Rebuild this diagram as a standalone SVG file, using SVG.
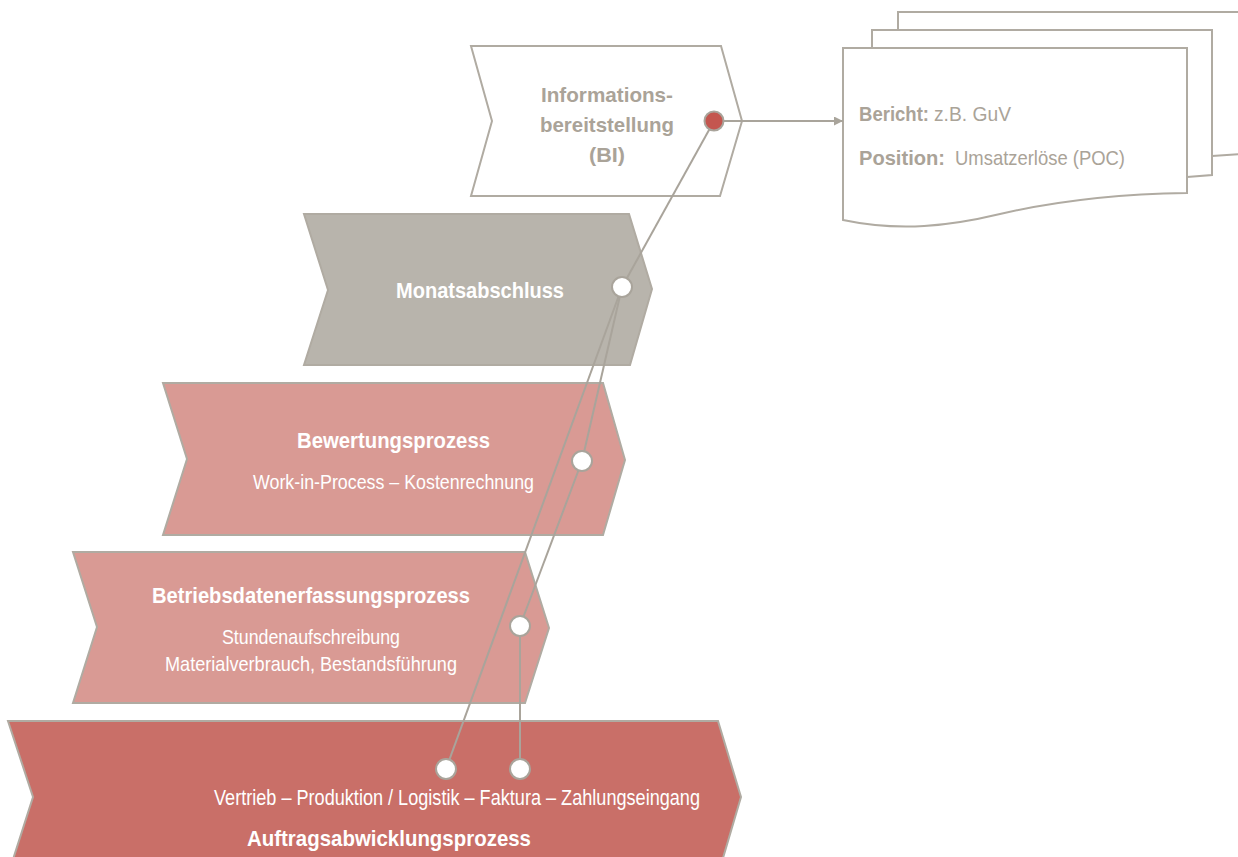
<svg xmlns="http://www.w3.org/2000/svg" width="1238" height="857" viewBox="0 0 1238 857">
<defs>
<style>
.sh{stroke:#b0aba2;stroke-width:2;stroke-linejoin:miter}
.pg{fill:#fff;stroke:#b0aba2;stroke-width:2}
.b{font-family:"Liberation Sans",Arial,sans-serif;font-weight:bold}
.r{font-family:"Liberation Sans",Arial,sans-serif;font-weight:normal}
.w{fill:#fff}
.g{fill:#aaa398}
.con{stroke:#a9a49b;stroke-width:2;fill:none}
.dot{fill:#fff;stroke:#a9a49b;stroke-width:2}
</style>
<marker id="arr" viewBox="0 0 10 10" refX="10" refY="5" markerWidth="11" markerHeight="9" orient="auto" markerUnits="userSpaceOnUse">
<path d="M0,0 L10,5 L0,10 z" fill="#a9a49b"/>
</marker>
</defs>
<rect width="1238" height="857" fill="#fff"/>

<g id="bericht">
<path class="pg" d="M898,156 L898,12 L1240,12 L1240,154 L1212,156"/>
<path class="pg" d="M872,178 L872,30 L1212,30 L1212,175 L1187,177"/>
<path class="pg" d="M843,220 L843,48 L1187,48 L1187,193 C1120,194 1060,200 1000,214 C950,226 900,232 843,220 Z"/>
<text class="g" x="859" y="121" font-size="21"><tspan class="b" textLength="70" lengthAdjust="spacingAndGlyphs">Bericht:</tspan><tspan class="r" dx="5" textLength="77" lengthAdjust="spacingAndGlyphs">z.B. GuV</tspan></text>
<text class="g" x="859" y="165" font-size="21"><tspan class="b" textLength="86" lengthAdjust="spacingAndGlyphs">Position:</tspan><tspan class="r" dx="10" textLength="170" lengthAdjust="spacingAndGlyphs">Umsatzerlöse (POC)</tspan></text>
</g>

<g id="auftrag">
<polygon class="sh" fill="#c96f68" points="8,721 718,721 741,797 718,875 8,875 33,797"/>
<text class="r w" x="214" y="805" font-size="22" textLength="486" lengthAdjust="spacingAndGlyphs">Vertrieb – Produktion / Logistik – Faktura – Zahlungseingang</text>
<text class="b w" x="247" y="846" font-size="22" textLength="284" lengthAdjust="spacingAndGlyphs">Auftragsabwicklungsprozess</text>
</g>

<g id="betrieb">
<polygon class="sh" fill="#d99a94" points="73,552 525,552 549,628 525,703 73,703 97,627"/>
<text class="b w" x="152" y="603" font-size="22" textLength="318" lengthAdjust="spacingAndGlyphs">Betriebsdatenerfassungsprozess</text>
<text class="r w" x="222" y="644" font-size="21" textLength="178" lengthAdjust="spacingAndGlyphs">Stundenaufschreibung</text>
<text class="r w" x="165" y="671" font-size="21" textLength="292" lengthAdjust="spacingAndGlyphs">Materialverbrauch, Bestandsführung</text>
</g>

<g id="bewertung">
<polygon class="sh" fill="#d99a94" points="163,383 603,383 625,460 603,535 163,535 187,459"/>
<text class="b w" x="297" y="448" font-size="22" textLength="193" lengthAdjust="spacingAndGlyphs">Bewertungsprozess</text>
<text class="r w" x="253" y="489" font-size="21" textLength="281" lengthAdjust="spacingAndGlyphs">Work-in-Process – Kostenrechnung</text>
</g>

<g id="monat">
<polygon class="sh" fill="#b8b4ac" points="304,214 629,214 652,289 630,365 304,365 328,290"/>
<text class="b w" x="396" y="298" font-size="22" textLength="168" lengthAdjust="spacingAndGlyphs">Monatsabschluss</text>
</g>

<g id="info">
<polygon class="sh" fill="#fff" points="471,46 721,46 742,121 720,196 471,196 492,121"/>
<text class="b g" x="607" y="102" font-size="21" text-anchor="middle" textLength="132" lengthAdjust="spacingAndGlyphs">Informations-</text>
<text class="b g" x="607" y="132" font-size="21" text-anchor="middle" textLength="134" lengthAdjust="spacingAndGlyphs">bereitstellung</text>
<text class="b g" x="607" y="162" font-size="21" text-anchor="middle" textLength="36" lengthAdjust="spacingAndGlyphs">(BI)</text>
</g>

<g id="connectors">
<line class="con" x1="724" y1="121" x2="843" y2="121" marker-end="url(#arr)"/>
<line class="con" x1="714" y1="121" x2="622" y2="287"/>
<line class="con" x1="622" y1="287" x2="446" y2="769"/>
<line class="con" x1="622" y1="287" x2="582" y2="461"/>
<line class="con" x1="582" y1="461" x2="520" y2="626"/>
<line class="con" x1="520" y1="626" x2="520" y2="769"/>
<circle cx="714" cy="121" r="9.5" fill="#c4564f" stroke="#a9a49b" stroke-width="2"/>
<circle class="dot" cx="622" cy="287" r="10"/>
<circle class="dot" cx="582" cy="461" r="10"/>
<circle class="dot" cx="520" cy="626" r="10"/>
<circle class="dot" cx="446" cy="769" r="10"/>
<circle class="dot" cx="520" cy="769" r="10"/>
</g>
</svg>
